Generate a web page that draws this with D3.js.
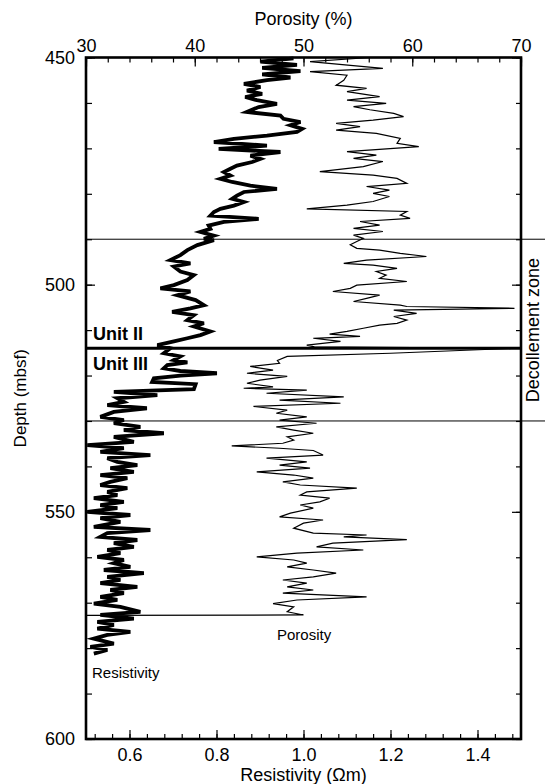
<!DOCTYPE html>
<html>
<head>
<meta charset="utf-8">
<script src="https://cdn.jsdelivr.net/npm/d3@7"></script>
<style>
  body { margin: 0; background: #fff; }
  text { font-family: 'Liberation Sans', Arial, sans-serif; fill: #000; }
</style>
</head>
<body>
<div id="chart"></div>
<script>
// tick labels
var depthTicks = [450, 500, 550, 600]
var porosityTicks = [30, 40, 50, 60, 70]
var resistivityTicks = [0.6, 0.8, 1.0, 1.2, 1.4]

// marker depths (mbsf)
var zoneDepths = [490, 530]
var unitBoundary = 514

// resistivity log: [depth, ohm-m]
var resistivity = [
  [450.2, 0.977], [450.9, 0.901], [451.6, 0.985], [452.3, 0.905], [453.0, 0.993], [453.7, 0.905],
  [454.4, 0.970], [455.0, 0.916], [455.8, 0.863], [456.5, 0.901], [457.3, 0.870], [458.0, 0.905],
  [458.7, 0.866], [459.4, 0.893], [460.2, 0.939], [460.9, 0.897], [462.0, 0.870], [462.8, 0.947],
  [463.5, 0.954], [464.2, 0.993], [464.9, 0.970], [465.7, 0.997], [466.4, 0.985], [467.2, 0.916],
  [467.9, 0.840], [468.6, 0.794], [469.4, 0.916], [470.1, 0.805], [470.8, 0.947], [471.6, 0.878],
  [472.3, 0.901], [473.0, 0.882], [473.8, 0.847], [474.5, 0.832], [475.2, 0.817], [476.0, 0.832],
  [476.7, 0.809], [477.4, 0.836], [478.2, 0.878], [478.9, 0.939], [479.6, 0.863], [480.4, 0.847],
  [481.1, 0.836], [481.8, 0.863], [482.6, 0.840], [483.3, 0.809], [484.0, 0.794], [484.8, 0.786],
  [485.5, 0.897], [486.2, 0.817], [487.0, 0.782], [487.7, 0.786], [488.4, 0.763], [489.2, 0.794],
  [489.9, 0.771], [490.2, 0.794], [491.3, 0.756], [492.4, 0.733], [493.5, 0.717], [494.6, 0.694],
  [495.3, 0.740], [496.0, 0.702], [497.1, 0.717], [497.9, 0.748], [499.0, 0.733], [500.1, 0.702],
  [500.8, 0.671], [501.5, 0.740], [502.3, 0.710], [503.4, 0.752], [504.5, 0.771], [505.2, 0.740],
  [506.0, 0.698], [506.7, 0.748], [507.8, 0.733], [508.5, 0.771], [509.2, 0.748], [510.3, 0.786],
  [511.1, 0.763], [511.8, 0.733], [512.5, 0.702], [513.3, 0.664], [514.0, 0.694], [515.1, 0.679],
  [515.8, 0.717], [516.6, 0.702], [517.1, 0.733], [517.7, 0.687], [518.4, 0.679], [519.0, 0.717],
  [519.5, 0.801], [520.0, 0.717], [520.6, 0.656], [521.4, 0.652], [521.9, 0.752], [523.0, 0.748],
  [523.6, 0.564], [524.3, 0.664], [525.0, 0.572], [525.8, 0.587], [526.5, 0.549], [527.2, 0.640],
  [528.0, 0.564], [529.1, 0.533], [529.8, 0.587], [530.5, 0.564], [531.3, 0.625], [532.0, 0.587],
  [532.7, 0.679], [533.5, 0.564], [534.6, 0.610], [535.3, 0.503], [536.0, 0.587], [536.8, 0.533],
  [537.5, 0.648], [538.2, 0.549], [539.0, 0.572], [539.7, 0.618], [540.4, 0.556], [541.2, 0.610],
  [541.9, 0.533], [542.6, 0.595], [543.4, 0.556], [544.1, 0.533], [544.8, 0.595], [545.6, 0.549],
  [546.3, 0.572], [547.0, 0.518], [547.8, 0.587], [548.5, 0.533], [549.2, 0.572], [550.0, 0.503],
  [550.7, 0.602], [551.4, 0.533], [552.2, 0.579], [553.3, 0.518], [554.0, 0.648], [554.7, 0.549],
  [555.5, 0.533], [556.2, 0.618], [556.9, 0.564], [557.7, 0.610], [558.4, 0.549], [559.1, 0.579],
  [559.9, 0.526], [560.6, 0.587], [561.3, 0.564], [562.1, 0.602], [562.8, 0.541], [563.5, 0.633],
  [564.3, 0.549], [565.0, 0.579], [565.7, 0.533], [566.5, 0.618], [567.2, 0.556], [567.9, 0.587],
  [568.7, 0.533], [569.4, 0.572], [570.2, 0.518], [570.9, 0.579], [572.0, 0.625], [572.7, 0.533],
  [573.5, 0.610], [574.2, 0.526], [574.9, 0.564], [575.7, 0.526], [576.4, 0.602], [577.1, 0.549],
  [577.9, 0.518], [579.0, 0.564], [579.7, 0.510], [580.4, 0.549], [581.2, 0.518]
]

// porosity log: [depth, %]
var porosity = [
  [450.0, 56.1], [450.9, 50.6], [452.4, 57.3], [453.1, 50.6], [453.9, 54.0], [455.0, 53.7],
  [456.1, 53.0], [456.8, 55.8], [457.5, 54.0], [458.6, 57.0], [459.4, 54.0], [460.1, 57.6],
  [460.8, 54.6], [461.5, 56.1], [462.3, 58.3], [463.0, 59.2], [463.8, 56.4], [464.5, 53.0],
  [465.2, 55.2], [466.0, 53.0], [466.7, 56.7], [467.8, 58.9], [468.9, 58.6], [469.6, 60.6],
  [470.7, 54.0], [471.5, 56.7], [472.2, 54.6], [472.9, 57.3], [474.0, 55.5], [475.1, 51.5],
  [475.9, 56.4], [476.6, 58.6], [477.7, 59.5], [478.4, 55.8], [479.2, 57.9], [479.9, 56.4],
  [480.6, 57.9], [481.7, 56.4], [482.5, 54.0], [483.3, 50.3], [483.9, 59.5], [484.7, 58.9],
  [485.4, 59.8], [486.1, 55.2], [486.9, 57.0], [487.6, 54.6], [488.3, 57.3], [489.1, 54.6],
  [489.8, 55.5], [490.5, 54.9], [491.2, 54.3], [492.0, 54.9], [492.4, 57.0], [493.1, 58.9],
  [493.8, 61.3], [494.6, 55.8], [495.3, 53.7], [495.7, 56.4], [496.4, 58.6], [497.1, 56.7],
  [497.9, 57.6], [498.6, 57.0], [499.3, 59.5], [500.1, 54.9], [500.8, 54.3], [501.5, 52.7],
  [502.3, 57.0], [503.0, 55.8], [503.7, 54.6], [504.5, 58.9], [504.8, 59.5], [505.2, 69.4],
  [505.6, 58.3], [506.3, 60.4], [507.0, 58.3], [507.8, 59.5], [508.5, 58.6], [508.9, 57.0],
  [509.6, 55.5], [510.3, 54.0], [510.9, 52.4], [511.4, 55.2], [511.8, 50.9], [512.5, 53.4],
  [513.3, 50.3], [513.7, 51.0], [514.0, 69.5], [515.1, 58.0], [515.8, 48.5], [516.7, 47.6],
  [517.3, 47.8], [518.0, 45.1], [518.8, 47.2], [519.5, 44.8], [520.2, 48.5], [521.0, 46.0],
  [521.7, 44.8], [522.5, 47.2], [522.8, 44.5], [523.2, 50.3], [523.9, 46.6], [524.7, 53.7],
  [525.4, 47.8], [526.1, 53.4], [526.8, 45.4], [527.6, 48.5], [528.3, 47.5], [529.1, 50.3],
  [529.8, 47.8], [530.5, 51.2], [531.3, 47.5], [532.0, 49.1], [532.7, 50.9], [533.5, 48.5],
  [534.2, 49.1], [534.9, 48.1], [535.5, 43.4], [536.0, 47.8], [536.5, 50.9], [537.5, 51.8],
  [538.2, 46.6], [539.0, 50.3], [539.7, 47.8], [540.4, 50.6], [541.2, 45.7], [541.9, 49.1],
  [542.6, 50.9], [543.4, 48.1], [544.1, 49.7], [544.8, 54.9], [545.6, 50.3], [546.3, 49.7],
  [547.0, 52.4], [547.8, 51.5], [548.5, 49.7], [549.2, 50.9], [550.3, 48.8], [551.1, 47.8],
  [551.8, 51.8], [552.5, 50.0], [553.6, 49.1], [554.7, 50.9], [555.1, 55.8], [555.5, 53.7],
  [556.1, 59.5], [556.9, 52.7], [557.7, 51.2], [558.4, 55.5], [559.1, 49.4], [559.9, 45.7],
  [560.6, 49.1], [561.3, 50.3], [562.1, 48.5], [562.8, 50.9], [563.5, 53.0], [564.3, 50.9],
  [565.0, 48.1], [565.7, 50.3], [566.5, 48.5], [567.2, 50.9], [567.9, 48.1], [568.7, 55.8],
  [569.4, 49.4], [570.2, 47.2], [570.9, 49.1], [572.0, 48.5], [572.7, 50.0], [572.8, 30.0]
]

var width = 545
var height = 784
var frame = { left: 86, right: 521, top: 57.5, bottom: 739 }

var svg = d3.select('#chart')
  .append('svg')
  .attr('width', width)
  .attr('height', height)

// scales
var depthScale = d3.scaleLinear().domain([450, 600]).range([frame.top, frame.bottom])
var porosityScale = d3.scaleLinear().domain([30, 70]).range([frame.left, frame.right])
var resistivityScale = d3.scaleLinear().domain([0.5, 1.5]).range([frame.left, frame.right])

// minor ticks (no labels)
var minorDepth = d3.range(450, 601, 10)
var minorPorosity = d3.range(30, 70.1, 2)
var minorResistivity = d3.range(0.52, 1.5, 0.04)

function styleAxis(g, size) {
  g.selectAll('.domain').remove()
  g.selectAll('line').attr('stroke', '#000').attr('stroke-width', 1.2)
  g.selectAll('text').style('font-size', size + 'px').attr('fill', '#000')
}

// top: porosity
svg.append('g')
  .attr('transform', 'translate(0,' + frame.top + ')')
  .call(d3.axisTop(porosityScale).tickValues(minorPorosity).tickSize(-5).tickFormat(''))
  .call(g => styleAxis(g, 18))
svg.append('g')
  .attr('transform', 'translate(0,' + frame.top + ')')
  .call(d3.axisTop(porosityScale).tickValues(porosityTicks).tickSize(-9).tickPadding(6).tickFormat(d3.format('d')))
  .call(g => styleAxis(g, 18))

// bottom: resistivity
svg.append('g')
  .attr('transform', 'translate(0,' + frame.bottom + ')')
  .call(d3.axisBottom(resistivityScale).tickValues(minorResistivity).tickSize(-5).tickFormat(''))
  .call(g => styleAxis(g, 18))
svg.append('g')
  .attr('transform', 'translate(0,' + frame.bottom + ')')
  .call(d3.axisBottom(resistivityScale).tickValues(resistivityTicks).tickSize(-9).tickPadding(9).tickFormat(d3.format('.1f')))
  .call(g => styleAxis(g, 18))

// left: depth
svg.append('g')
  .attr('transform', 'translate(' + frame.left + ',0)')
  .call(d3.axisLeft(depthScale).tickValues(minorDepth).tickSize(-6).tickFormat(''))
  .call(g => styleAxis(g, 18))
svg.append('g')
  .attr('transform', 'translate(' + frame.left + ',0)')
  .call(d3.axisLeft(depthScale).tickValues(depthTicks).tickSize(-9).tickPadding(11).tickFormat(d3.format('d')))
  .call(g => styleAxis(g, 18))

// right: ticks only
svg.append('g')
  .attr('transform', 'translate(' + frame.right + ',0)')
  .call(d3.axisRight(depthScale).tickValues(minorDepth).tickSize(-5).tickFormat(''))
  .call(g => styleAxis(g, 18))
svg.append('g')
  .attr('transform', 'translate(' + frame.right + ',0)')
  .call(d3.axisRight(depthScale).tickValues(depthTicks).tickSize(-9).tickFormat(''))
  .call(g => styleAxis(g, 18))

// curves
var resLine = d3.line()
  .x(d => resistivityScale(d[1]))
  .y(d => depthScale(d[0]))
var porLine = d3.line()
  .x(d => porosityScale(d[1]))
  .y(d => depthScale(d[0]))

svg.append('path')
  .datum(porosity)
  .attr('d', porLine)
  .attr('fill', 'none')
  .attr('stroke', '#000')
  .attr('stroke-width', 1.2)

svg.append('path')
  .datum(resistivity)
  .attr('d', resLine)
  .attr('fill', 'none')
  .attr('stroke', '#000')
  .attr('stroke-width', 3.8)

// decollement zone boundaries
svg.selectAll('.zone')
  .data(zoneDepths)
  .enter()
  .append('line')
  .attr('x1', frame.left)
  .attr('x2', width)
  .attr('y1', d => depthScale(d))
  .attr('y2', d => depthScale(d))
  .attr('stroke', '#000')
  .attr('stroke-width', 1)

svg.append('line')
  .attr('x1', frame.left)
  .attr('x2', frame.right)
  .attr('y1', depthScale(unitBoundary))
  .attr('y2', depthScale(unitBoundary))
  .attr('stroke', '#000')
  .attr('stroke-width', 3)

// frame
svg.append('rect')
  .attr('x', frame.left)
  .attr('y', frame.top)
  .attr('width', frame.right - frame.left)
  .attr('height', frame.bottom - frame.top)
  .attr('fill', 'none')
  .attr('stroke', '#000')
  .attr('stroke-width', 2.6)

// labels
svg.append('text')
  .attr('x', (frame.left + frame.right) / 2)
  .attr('y', 25)
  .attr('text-anchor', 'middle')
  .style('font-size', '18px')
  .text('Porosity (%)')

svg.append('text')
  .attr('x', (frame.left + frame.right) / 2)
  .attr('y', 781)
  .attr('text-anchor', 'middle')
  .style('font-size', '18px')
  .text('Resistivity (Ωm)')

svg.append('text')
  .attr('transform', 'translate(26,' + (frame.top + frame.bottom) / 2 + ') rotate(-90)')
  .attr('text-anchor', 'middle')
  .style('font-size', '17px')
  .text('Depth (mbsf)')

svg.append('text')
  .attr('transform', 'translate(539,' + depthScale((zoneDepths[0] + zoneDepths[1]) / 2) + ') rotate(-90)')
  .attr('text-anchor', 'middle')
  .style('font-size', '18px')
  .text('Decollement zone')

svg.append('text')
  .attr('x', 93)
  .attr('y', depthScale(unitBoundary) - 8)
  .style('font-size', '18px')
  .style('font-weight', 'bold')
  .text('Unit II')

svg.append('text')
  .attr('x', 93)
  .attr('y', depthScale(unitBoundary) + 22)
  .style('font-size', '18px')
  .style('font-weight', 'bold')
  .text('Unit III')

svg.append('text')
  .attr('x', 277)
  .attr('y', 640)
  .style('font-size', '15px')
  .text('Porosity')

svg.append('text')
  .attr('x', 92)
  .attr('y', 678)
  .style('font-size', '15px')
  .text('Resistivity')
</script>
</body>
</html>
